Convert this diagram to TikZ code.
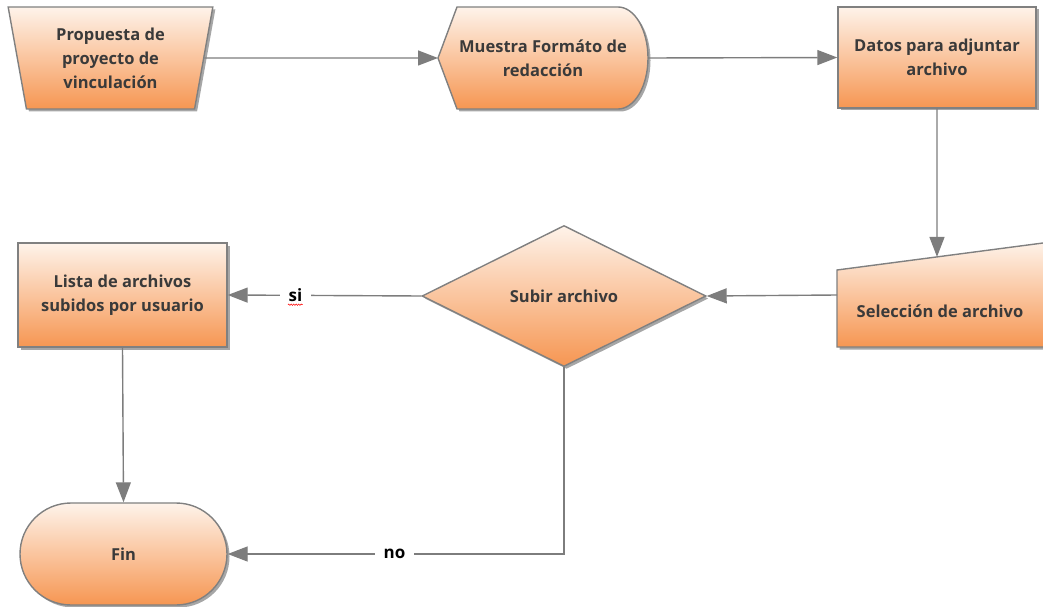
\documentclass[tikz,border=0pt]{standalone}
\usepackage{fontspec}
\setmainfont{Open Sans}
\usetikzlibrary{arrows.meta,shapes.geometric,shapes.misc,shadows,decorations.pathmorphing,calc,backgrounds}

\definecolor{edge}{RGB}{128,128,128}
\definecolor{wire}{RGB}{125,125,125}
\definecolor{ink}{RGB}{58,58,58}
\definecolor{peachtop}{RGB}{254,243,234}
\definecolor{orangebot}{RGB}{246,150,82}

\tikzset{
  fillbox/.style={draw=edge, line width=1.4pt, top color=peachtop, bottom color=orangebot,
    drop shadow={shadow xshift=2.5pt, shadow yshift=-2.5pt, fill=black, opacity=0.35}},
  txt/.style={text=ink, font=\fontsize{16.5}{24}\selectfont\bfseries, align=center},
  frame/.style={inner sep=0pt, outer sep=0pt},
  wireline/.style={draw=wire, line width=1.4pt, -{Triangle[length=20pt,width=15pt]}},
  lbl/.style={fill=white, inner xsep=9pt, inner ysep=2pt, text=black, font=\fontsize{17}{19}\selectfont\bfseries},
}

\begin{document}
\begin{tikzpicture}[x=1pt,y=-1pt]
\useasboundingbox (0,0) rectangle (1043,607);

% top row
\node[fillbox, txt, trapezium, shape border rotate=180, trapezium stretches=true,
      trapezium left angle=79, trapezium right angle=79,
      minimum width=205pt, minimum height=102pt, inner sep=0pt] (p1) at (110.5,58)
  {Propuesta de\\proyecto de\\vinculación};

\node[frame, txt, minimum width=210pt, minimum height=102pt] (p2) at (543,58)
  {Muestra Formáto de\\redacción};
\begin{scope}[on background layer]
  \path[fillbox] (p2.west) -- ($(p2.north west)+(19,0)$) -- ($(p2.north east)+(-30,0)$)
    arc[start angle=-90, end angle=90, x radius=30, y radius=51]
    -- ($(p2.south west)+(19,0)$) -- cycle;
\end{scope}

\node[fillbox, txt, rectangle, minimum width=198pt, minimum height=101pt, inner sep=0pt] (p3) at (937,57.5)
  {Datos para adjuntar\\archivo};

% middle row
\node[frame, minimum width=206pt, minimum height=104pt] (p4) at (940,295) {};
\coordinate (p4tl) at ($(p4.north west)+(0,27)$);
\begin{scope}[on background layer]
  \path[fillbox] (p4.south west) -- (p4tl) -- (p4.north east) -- ++(8,-1)
    -- ($(p4.south east)+(8,0)$) -- cycle;
\end{scope}
\node[txt] (p4t) at (940,311) {Selección de archivo};
\coordinate (p4top) at ($(p4tl)!0.4854!(p4.north east)$);

\node[fillbox, txt, diamond, aspect=2, minimum width=284pt, minimum height=141pt, inner sep=0pt] (p5) at (564,296)
  {Subir archivo};

\node[fillbox, txt, rectangle, minimum width=209pt, minimum height=104pt, inner sep=0pt] (p6) at (122.5,295)
  {Lista de archivos\\subidos por usuario};

% bottom row
\node[fillbox, txt, rounded rectangle, minimum width=207pt, minimum height=102pt, inner sep=0pt] (p7) at (123.5,554)
  {Fin};

% connectors
\draw[wireline] (p1.east) -- (p2.west);
\draw[wireline] (p2.east) -- (p3.west);
\draw[wireline] (p3.south) -- (p4top);
\draw[wireline] (p4.west) -- (p5.east);
\draw[wireline] (p5.west) -- node[lbl, pos=0.65] (si) {si} (p6.east);
\draw[red, line width=0.5pt, decorate, decoration={snake, amplitude=0.7pt, segment length=2.5pt}]
  ($(si.base west)+(9,3)$) -- ($(si.base east)+(-9,3)$);
\draw[wireline] (p6.south) -- (p7.north);
\draw[wireline] (p5.south) |- node[lbl, pos=0.752] (no) {no} (p7.east);
\end{tikzpicture}
\end{document}
